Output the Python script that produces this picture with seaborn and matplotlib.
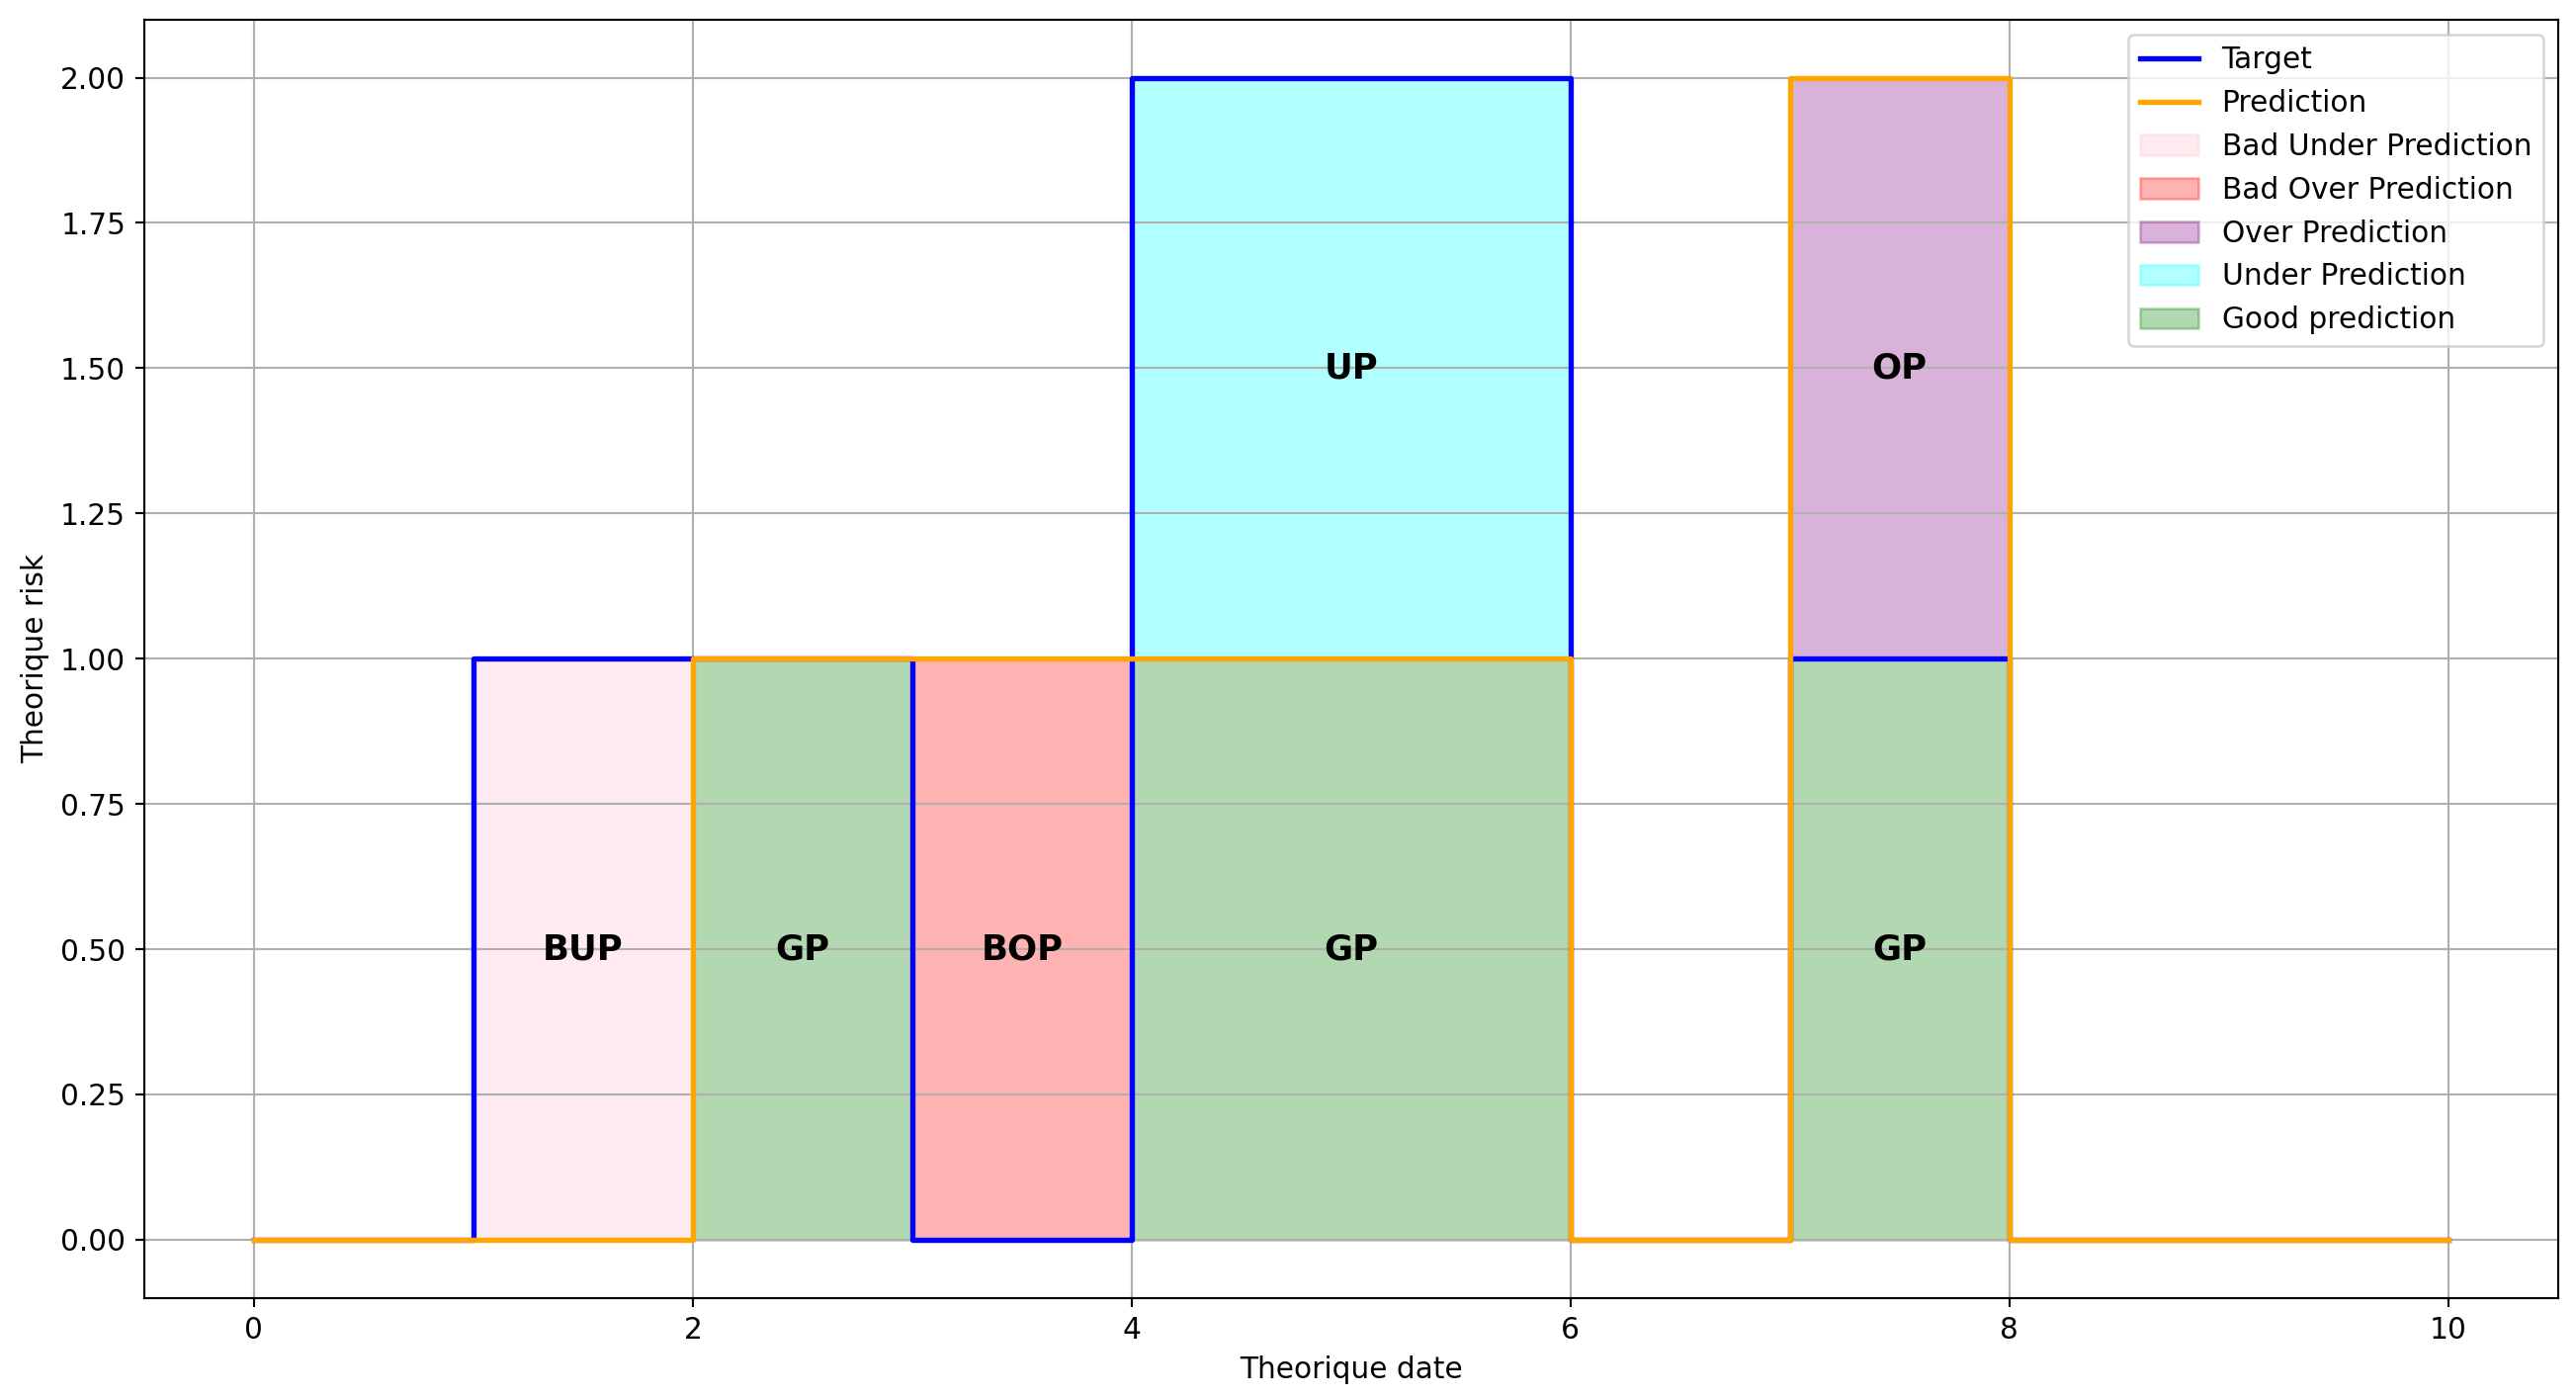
import numpy as np
import matplotlib.pyplot as plt
import seaborn as sns

# step values: value at dates[i] holds until dates[i+1]
dates = np.arange(0, 11)
target = np.array([0, 1, 1, 0, 2, 2, 0, 1, 0, 0, 0])
prediction = np.array([0, 0, 1, 1, 1, 1, 0, 2, 0, 0, 0])

cat_order = ["BUP", "BOP", "OP", "UP", "GP"]
cat_names = {"BUP": "Bad Under Prediction", "BOP": "Bad Over Prediction",
             "OP": "Over Prediction", "UP": "Under Prediction", "GP": "Good prediction"}
cat_colors = {"BUP": "pink", "BOP": "red", "OP": "purple", "UP": "cyan", "GP": "green"}

# classify each step segment
runs = []
for i in range(len(dates) - 1):
    t, p = target[i], prediction[i]
    parts = []
    if t > 0 and p > 0:
        parts.append(("GP", 0, min(t, p)))
    if t > 0 and p == 0:
        parts.append(("BUP", 0, t))
    if p > 0 and t == 0:
        parts.append(("BOP", 0, p))
    if t > p > 0:
        parts.append(("UP", p, t))
    if p > t > 0:
        parts.append(("OP", t, p))
    for cat, lo, hi in parts:
        # merge with previous run if contiguous and same shape
        merged = False
        for r in runs:
            if r[0] == cat and r[2] == dates[i] and r[3] == lo and r[4] == hi:
                r[2] = dates[i + 1]
                merged = True
                break
        if not merged:
            runs.append([cat, dates[i], dates[i + 1], lo, hi])

plt.rcParams['font.size'] = 11.1

dpi = 192
fig, ax = plt.subplots(figsize=(2606 / dpi, 1413 / dpi), dpi=dpi)
plt.subplots_adjust(left=0.056, right=0.993, top=0.986, bottom=0.071)

sns.lineplot(x=dates, y=target, drawstyle='steps-post', color='blue', linewidth=2,
             label='Target', estimator=None, zorder=3, ax=ax)
sns.lineplot(x=dates, y=prediction, drawstyle='steps-post', color='orange', linewidth=2,
             label='Prediction', estimator=None, zorder=3, ax=ax)

for cat in cat_order:
    first = True
    for c, x0, x1, lo, hi in runs:
        if c != cat:
            continue
        ax.fill_between([x0, x1], lo, hi, color=cat_colors[cat], alpha=0.3,
                        label=cat_names[cat] if first else None)
        first = False
        ax.text((x0 + x1) / 2, (lo + hi) / 2, cat, ha='center', va='center',
                fontsize=13.3, fontweight='bold')

ax.grid(True)
ax.set_xlabel('Theorique date')
ax.set_ylabel('Theorique risk')
ax.legend(loc='upper right')
plt.savefig('out.png', dpi=dpi)
